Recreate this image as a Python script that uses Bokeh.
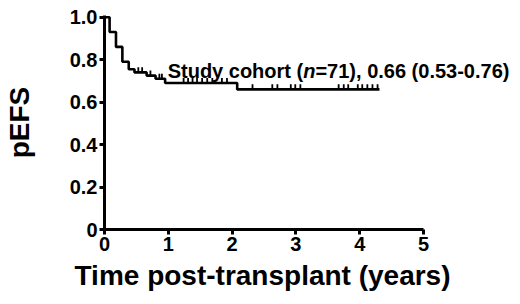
from bokeh.plotting import figure
from bokeh.models import Range1d, FixedTicker, CustomJSTickFormatter, Label, ColumnDataSource, Title
from bokeh.embed import file_html
from bokeh.resources import INLINE

# Kaplan-Meier step data (time in years, survival)
step_times = [0.0, 0.08, 0.18, 0.28, 0.38, 0.47, 0.66, 0.80, 0.95, 2.08]
step_surv = [1.0, 0.93, 0.86, 0.79, 0.755, 0.74, 0.725, 0.71, 0.69, 0.66]
end_time = 4.31
censor_times = [0.53, 0.59, 0.72, 0.86, 0.90,
                1.24, 1.31, 1.38, 1.45, 1.53, 1.61, 1.69, 1.84, 1.92,
                2.32, 2.63, 2.71, 2.92, 2.99, 3.07, 3.67, 3.75, 3.82,
                3.97, 4.04, 4.12, 4.20, 4.28]
x_ticks = [0, 1, 2, 3, 4, 5]
y_ticks = [0, 0.2, 0.4, 0.6, 0.8, 1.0]
label_parts = ["Study cohort (", "n", "=71), 0.66 (0.53-0.76)"]
x_title = "Time post-transplant (years)"
y_title = "pEFS"

FONT = "Liberation Sans"
LABEL_PX = 20

def surv_at(t):
    s = step_surv[0]
    for tt, ss in zip(step_times, step_surv):
        if tt <= t:
            s = ss
    return s

# build step path
xs, ys = [], []
for i, (t, s) in enumerate(zip(step_times, step_surv)):
    if i > 0:
        xs.append(t); ys.append(step_surv[i - 1])
    xs.append(t); ys.append(s)
xs.append(end_time); ys.append(step_surv[-1])

p = figure(width=520, height=304, output_backend="svg", toolbar_location=None,
           x_range=Range1d(0, 416 / 63.8), y_range=Range1d(0, 1.008),
           min_border_left=104, min_border_right=0, min_border_top=15,
           min_border_bottom=0)
p.frame_width = 416
p.frame_height = 214
p.outline_line_color = None
p.grid.visible = False
p.background_fill_color = "white"
p.border_fill_color = "white"

p.line(xs, ys, line_color="black", line_width=2.6)

cy = [surv_at(t) for t in censor_times]
src = ColumnDataSource(dict(x=censor_times, y0=cy, y1=[v + 0.024 for v in cy]))
p.segment(x0="x", y0="y0", x1="x", y1="y1", source=src, line_color="black", line_width=1.8)

for ax in (p.xaxis[0], p.yaxis[0]):
    ax.axis_line_width = 3
    ax.major_tick_line_width = 3
    ax.major_tick_out = 5
    ax.major_tick_in = 0
    ax.minor_tick_line_color = None
    ax.major_label_text_font = FONT
    ax.major_label_text_font_style = "bold"
    ax.major_label_text_font_size = "20px"
    ax.major_label_text_color = "black"
    ax.axis_label_text_font = FONT
    ax.axis_label_text_font_style = "bold"
    ax.axis_label_text_color = "black"
    ax.axis_line_color = "black"
    ax.major_tick_line_color = "black"

p.xaxis.bounds = (0, 5)
p.xaxis.ticker = FixedTicker(ticks=x_ticks)
p.yaxis.ticker = FixedTicker(ticks=y_ticks)
p.yaxis.formatter = CustomJSTickFormatter(code="return tick == 0 ? '0' : tick.toFixed(1);")
p.yaxis.axis_label = y_title
p.yaxis.axis_label_text_font_size = "28px"
p.xaxis.major_label_standoff = 2
p.yaxis.major_label_standoff = 2
p.yaxis.axis_label_standoff = 32

xt = Title(text=x_title, align="left", offset=-30, standoff=8,
           text_font=FONT, text_font_style="bold", text_font_size="28px",
           text_color="black")
p.add_layout(xt, "below")

lx, ly = 0.99, 0.745
offs = [0, 6.778 * LABEL_PX, 7.389 * LABEL_PX]
styles = ["bold", "bold italic", "bold"]
for txt, off, st in zip(label_parts, offs, styles):
    p.add_layout(Label(x=lx, y=ly, x_offset=off, text=txt, text_font=FONT,
                       text_font_style=st, text_font_size=f"{LABEL_PX}px",
                       text_color="black", text_baseline="alphabetic"))

open("out.html", "w").write(file_html(p, INLINE))
